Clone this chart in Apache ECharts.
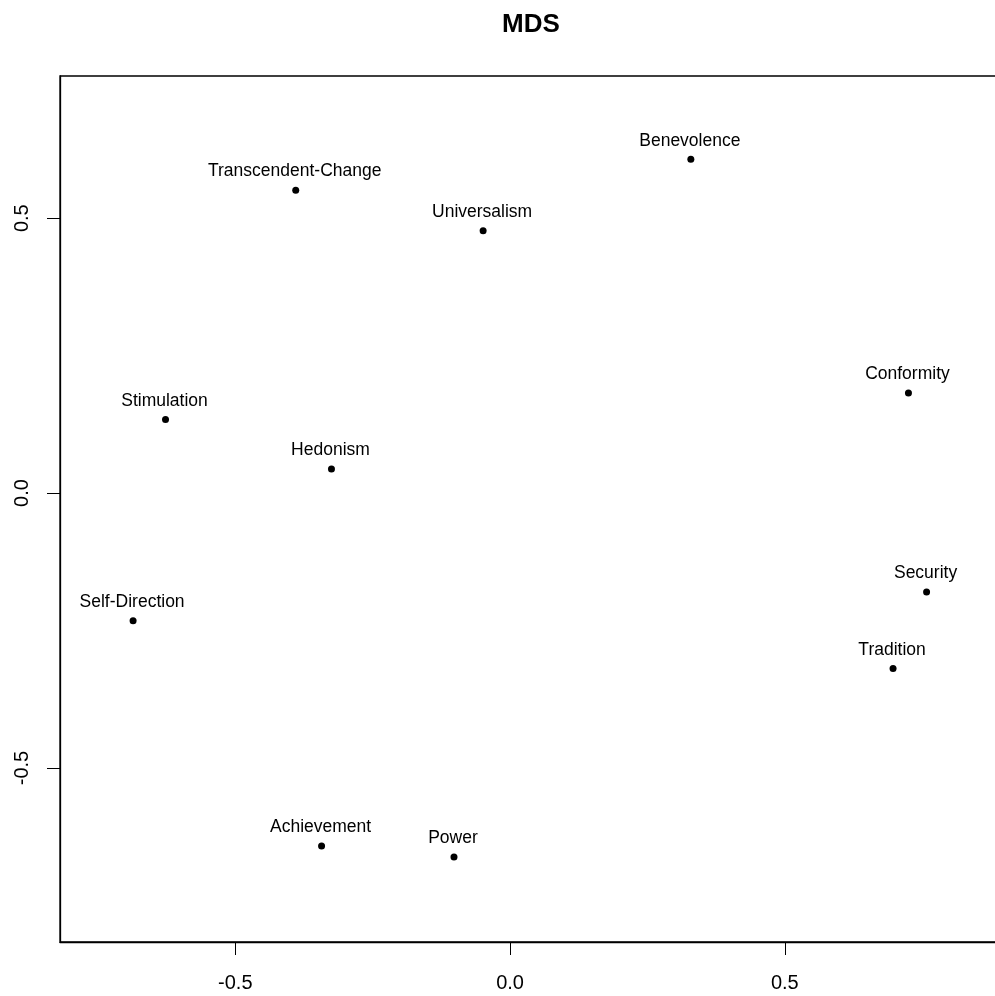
<!DOCTYPE html>
<html>
<head>
<meta charset="utf-8">
<script src="https://cdn.jsdelivr.net/npm/echarts@6/dist/echarts.min.js"></script>
<style>
html,body{margin:0;padding:0;background:#fff;overflow:hidden;}
#chart{width:1000px;height:996px;}
</style>
</head>
<body>
<div id="chart"></div>
<script>
const labels = ["Transcendent-Change","Universalism","Benevolence","Conformity","Stimulation","Hedonism","Self-Direction","Security","Tradition","Achievement","Power"];
const xValues = [-0.390,-0.049,0.329,0.725,-0.627,-0.325,-0.686,0.758,0.697,-0.343,-0.102];
const yValues = [0.551,0.477,0.607,0.182,0.134,0.044,-0.232,-0.180,-0.319,-0.642,-0.662];
const xTicks = [-0.5,0.0,0.5];
const yTicks = [-0.5,0.0,0.5];
const titleText = "MDS";

const data = labels.map((n,i)=>({name:n, value:[xValues[i], yValues[i]]}));
const font = "'Liberation Sans', Arial, sans-serif";
const chart = echarts.init(document.getElementById('chart'), null, {renderer:'canvas'});
chart.setOption({
  backgroundColor:'#fff',
  animation:false,
  title:{text:titleText, left:497, top:7,
    textStyle:{fontFamily:font, fontSize:26, fontWeight:'bold', color:'#000'}},
  grid:{left:60, top:76, width:939, height:866, show:true, borderColor:'#000', borderWidth:1.3, containLabel:false},
  xAxis:{type:'value', min:-0.819, max:0.8898,
    splitLine:{show:false},
    axisLine:{show:true, onZero:false, lineStyle:{color:'#000', width:1.3}},
    axisTick:{show:true, length:13, inside:false, customValues:xTicks, lineStyle:{color:'#000', width:1}},
    axisLabel:{show:true, customValues:xTicks, margin:31, fontFamily:font, fontSize:20, color:'#000',
      formatter:v=>v.toFixed(1)}
  },
  yAxis:{type:'value', min:-0.8165, max:0.7586,
    splitLine:{show:false},
    axisLine:{show:true, onZero:false, lineStyle:{color:'#000', width:1.3}},
    axisTick:{show:true, length:13, inside:false, customValues:yTicks, lineStyle:{color:'#000', width:1}},
    axisLabel:{show:true, customValues:yTicks, rotate:90, margin:28, fontFamily:font, fontSize:20, color:'#000',
      formatter:v=>v.toFixed(1)}
  },
  series:[{
    type:'scatter', data:data, symbol:'circle', symbolSize:7,
    itemStyle:{color:'#000', opacity:1},
    label:{show:true, position:'inside', offset:[-1,-18.5], formatter:p=>p.name,
      fontFamily:font, fontSize:17.5, color:'#000', opacity:1},
    emphasis:{disabled:true}
  }]
});
</script>
</body>
</html>
